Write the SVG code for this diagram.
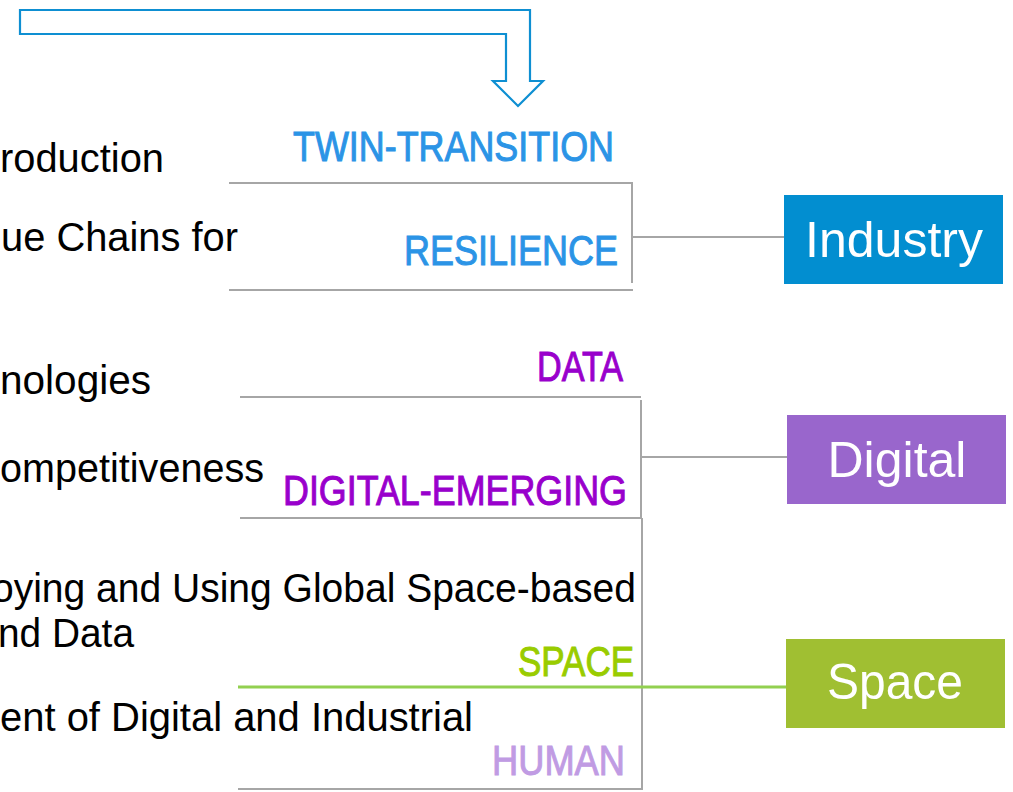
<svg xmlns="http://www.w3.org/2000/svg" width="1013" height="792" viewBox="0 0 1013 792">
  <style>
    .body { font-family: "Liberation Sans", Arial, sans-serif; font-size: 40px; fill: #000000; }
    .tag { font-family: "Liberation Sans", Arial, sans-serif; font-size: 42px; stroke-width: 1; paint-order: stroke; }
    .box-label { font-family: "Liberation Sans", Arial, sans-serif; font-size: 50px; fill: #ffffff; text-anchor: middle; }
    .gray { stroke: #A6A6A6; stroke-width: 2; fill: none; }
    .green { stroke: #92D050; stroke-width: 3; fill: none; }
  </style>
  <rect width="1013" height="792" fill="#ffffff"/>

  <g id="arrow">
    <path d="M20,10 H530 V81 H543 L518,106 L493,81 H506 V34 H20 Z" fill="#ffffff" stroke="#0E8FD2" stroke-width="2.2" stroke-linejoin="miter"/>
  </g>

  <g id="body-texts">
    <text class="body" x="0" y="172" textLength="164" lengthAdjust="spacingAndGlyphs">roduction</text>
    <text class="body" x="1" y="251" textLength="237" lengthAdjust="spacingAndGlyphs">ue Chains for</text>
    <text class="body" x="0" y="394" textLength="151" lengthAdjust="spacingAndGlyphs">nologies</text>
    <text class="body" x="0" y="482" textLength="264" lengthAdjust="spacingAndGlyphs">ompetitiveness</text>
    <text class="body" x="-8" y="602" textLength="644" lengthAdjust="spacingAndGlyphs">oying and Using Global Space-based</text>
    <text class="body" x="-2" y="647" textLength="136" lengthAdjust="spacingAndGlyphs">nd Data</text>
    <text class="body" x="0" y="731" textLength="473" lengthAdjust="spacingAndGlyphs">ent of Digital and Industrial</text>
  </g>

  <g id="tags">
    <text class="tag" x="293" y="161" fill="#2B94E6" stroke="#2B94E6" textLength="321" lengthAdjust="spacingAndGlyphs">TWIN-TRANSITION</text>
    <text class="tag" x="404" y="265" fill="#2B94E6" stroke="#2B94E6" textLength="214" lengthAdjust="spacingAndGlyphs">RESILIENCE</text>
    <text class="tag" x="537" y="381" fill="#9900CC" stroke="#9900CC" textLength="86" lengthAdjust="spacingAndGlyphs">DATA</text>
    <text class="tag" x="283" y="505" fill="#9900CC" stroke="#9900CC" textLength="344" lengthAdjust="spacingAndGlyphs">DIGITAL-EMERGING</text>
    <text class="tag" x="518" y="676" fill="#99CC00" stroke="#99CC00" textLength="116" lengthAdjust="spacingAndGlyphs">SPACE</text>
    <text class="tag" x="492" y="775" fill="#C09BE3" stroke="#C09BE3" textLength="133" lengthAdjust="spacingAndGlyphs">HUMAN</text>
  </g>

  <g id="connectors">
    <line class="gray" x1="229" y1="183" x2="633" y2="183"/>
    <line class="gray" x1="632" y1="183" x2="632" y2="283"/>
    <line class="gray" x1="229" y1="290" x2="633" y2="290"/>
    <line class="gray" x1="632" y1="237" x2="784" y2="237"/>

    <line class="gray" x1="240" y1="397" x2="641" y2="397"/>
    <line class="gray" x1="641" y1="400" x2="641" y2="518"/>
    <line class="gray" x1="240" y1="518" x2="642" y2="518"/>
    <line class="gray" x1="641" y1="457" x2="788" y2="457"/>
    <line class="gray" x1="642" y1="518" x2="642" y2="789"/>
    <line class="gray" x1="238" y1="789" x2="643" y2="789"/>

    <line class="green" x1="238" y1="687" x2="797" y2="687"/>
  </g>

  <g id="node-industry">
    <rect x="784" y="195" width="219" height="89" fill="#028ED0"/>
    <text class="box-label" x="894" y="257">Industry</text>
  </g>
  <g id="node-digital">
    <rect x="787" y="415" width="219" height="89" fill="#9966CC"/>
    <text class="box-label" x="897" y="477">Digital</text>
  </g>
  <g id="node-space">
    <rect x="786" y="639" width="219" height="89" fill="#A0BF32"/>
    <text class="box-label" x="895" y="699" textLength="136" lengthAdjust="spacingAndGlyphs">Space</text>
  </g>
</svg>
